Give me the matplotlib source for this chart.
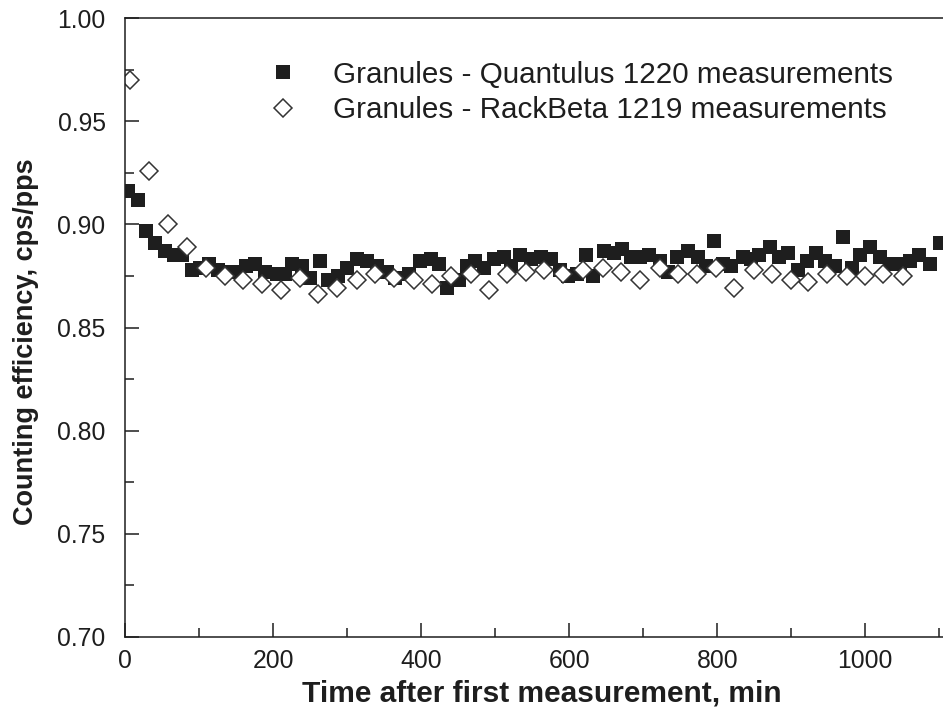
import matplotlib
matplotlib.use("Agg")
import matplotlib.pyplot as plt
from matplotlib.ticker import MultipleLocator, FormatStrFormatter

plt.rcParams['font.family'] = ['Liberation Sans', 'DejaVu Sans']

# Quantulus 1220 (filled squares)
quant_time = [4, 17, 28, 41, 54, 66, 77, 90, 101, 114, 126, 140, 152, 164, 176,
              189, 205, 216, 226, 239, 250, 264, 274, 288, 300, 313, 327, 340,
              354, 365, 383, 399, 413, 424, 435, 451, 462, 473, 485, 498, 512,
              521, 534, 548, 562, 575, 587, 598, 611, 623, 632, 647, 661, 672,
              683, 695, 708, 722, 733, 745, 760, 774, 785, 795, 808, 819, 835,
              846, 857, 871, 884, 896, 909, 921, 934, 946, 959, 970, 982, 993,
              1006, 1020, 1033, 1047, 1060, 1072, 1087, 1101]
quant_eff = [0.916, 0.912, 0.897, 0.891, 0.887, 0.885, 0.885, 0.878, 0.879, 0.881,
             0.878, 0.877, 0.877, 0.880, 0.881, 0.877, 0.876, 0.876, 0.881, 0.880,
             0.874, 0.882, 0.873, 0.875, 0.879, 0.883, 0.882, 0.880, 0.877, 0.874,
             0.876, 0.882, 0.883, 0.881, 0.869, 0.873, 0.880, 0.882, 0.879, 0.883,
             0.884, 0.880, 0.885, 0.883, 0.884, 0.883, 0.878, 0.875, 0.876, 0.885,
             0.875, 0.887, 0.886, 0.888, 0.884, 0.884, 0.885, 0.882, 0.877, 0.884,
             0.887, 0.884, 0.880, 0.892, 0.881, 0.880, 0.884, 0.883, 0.885, 0.889,
             0.884, 0.886, 0.878, 0.882, 0.886, 0.882, 0.880, 0.894, 0.879, 0.885,
             0.889, 0.884, 0.881, 0.881, 0.882, 0.885, 0.881, 0.891]

# RackBeta 1219 (open diamonds)
rack_time = [7, 33, 58, 84, 109, 135, 160, 185, 211, 236, 261, 286, 313, 338,
             364, 390, 415, 440, 467, 492, 516, 541, 566, 591, 618, 645, 670,
             695, 722, 747, 772, 798, 823, 849, 874, 899, 923, 948, 975, 1000,
             1024, 1051]
rack_eff = [0.970, 0.926, 0.900, 0.889, 0.879, 0.875, 0.873, 0.871, 0.868, 0.874,
            0.866, 0.869, 0.873, 0.876, 0.874, 0.873, 0.871, 0.875, 0.876, 0.868,
            0.876, 0.877, 0.878, 0.876, 0.878, 0.879, 0.877, 0.873, 0.879, 0.876,
            0.876, 0.879, 0.869, 0.878, 0.876, 0.873, 0.872, 0.876, 0.875, 0.875,
            0.876, 0.875]

ink = '#1e1e1e'

fig = plt.figure(figsize=[9.43, 7.15], dpi=100)
ax = fig.add_axes([0.1326, 0.1091, 0.8690, 0.8657])

ax.plot(quant_time, quant_eff, 's', color=ink, markersize=9.4,
        markeredgewidth=0, label='Granules - Quantulus 1220 measurements')
ax.plot(rack_time, rack_eff, 'D', markerfacecolor='white', markeredgecolor='#333333',
        markersize=9.2, markeredgewidth=1.1,
        label='Granules - RackBeta 1219 measurements')

ax.set_xlim(0, 1107)
ax.set_ylim(0.70, 1.00)
ax.xaxis.set_major_locator(MultipleLocator(200))
ax.xaxis.set_minor_locator(MultipleLocator(100))
ax.yaxis.set_major_locator(MultipleLocator(0.05))
ax.yaxis.set_minor_locator(MultipleLocator(0.025))
ax.yaxis.set_major_formatter(FormatStrFormatter('%.2f'))
ax.tick_params(which='both', direction='in', top=False, right=False,
               width=1.1, labelsize=17.8, colors=ink)
ax.tick_params(axis='x', which='both', pad=9)
ax.tick_params(axis='y', which='both', pad=14)
ax.tick_params(which='major', length=10)
ax.tick_params(which='minor', length=6.5)
for side in ['left', 'bottom', 'top', 'right']:
    ax.spines[side].set_linewidth(1.1)
    ax.spines[side].set_color(ink)

ax.set_xlabel('Time after first measurement, min', fontsize=21.5, fontweight='bold',
              color=ink)
ax.set_ylabel('Counting efficiency, cps/pps', fontsize=19.5, fontweight='bold',
              color=ink)
ax.xaxis.set_label_coords(0.508, -0.069)
ax.yaxis.set_label_coords(-0.1055, 0.4766)

ax.legend(loc='center left', bbox_to_anchor=(0.1745, 0.8797), frameon=False,
          fontsize=21.3, handlelength=1.0, handletextpad=1.2, labelspacing=0.25,
          borderaxespad=0, borderpad=0, labelcolor=ink)

plt.savefig('out.png', dpi=100)
